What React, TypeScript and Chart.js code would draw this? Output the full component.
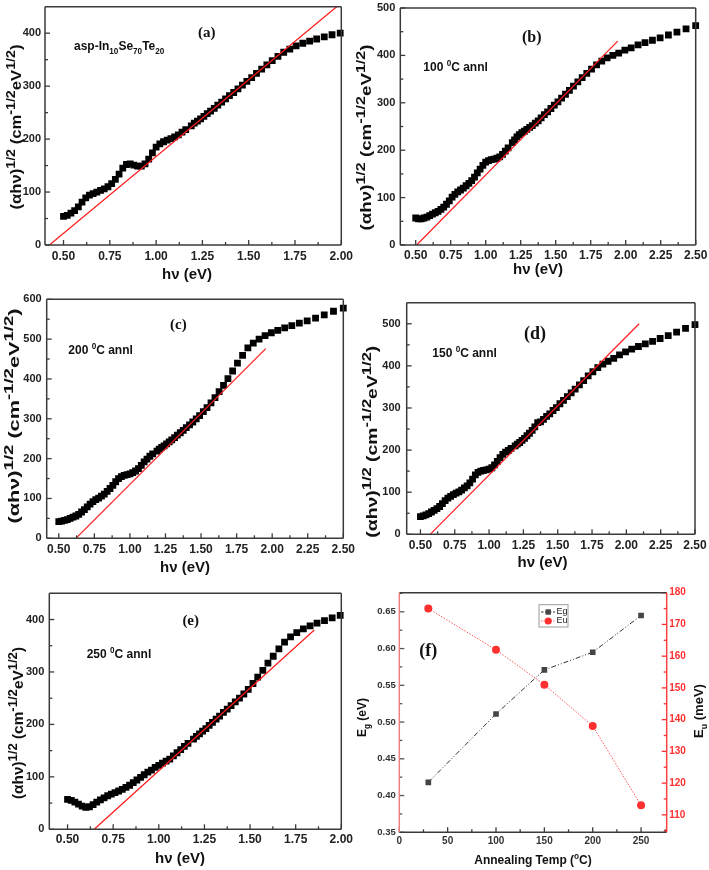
import React, { useEffect, useRef } from 'react';
import { Chart, registerables } from 'chart.js';
Chart.register(...registerables);

// ---------------- data ----------------
// photon energy grid hv (eV)
const hv = [
  0.50, 0.52, 0.54, 0.56, 0.58, 0.60, 0.62, 0.64, 0.66, 0.68,
  0.70, 0.72, 0.74, 0.76, 0.78, 0.80, 0.82, 0.84, 0.86, 0.88,
  0.90, 0.92, 0.94, 0.96, 0.98, 1.00, 1.02, 1.04, 1.06, 1.08,
  1.10, 1.12, 1.14, 1.16,
  1.190, 1.206, 1.223, 1.240, 1.258, 1.276,
  1.294, 1.314, 1.333, 1.354, 1.375, 1.396, 1.419, 1.442, 1.466, 1.490,
  1.516, 1.542, 1.570, 1.598, 1.627, 1.658, 1.689, 1.722, 1.756, 1.792,
  1.829, 1.867, 1.908, 1.950, 1.994,
  2.039, 2.088, 2.138, 2.191, 2.246, 2.305, 2.366, 2.431, 2.500,
];

// (alpha hv)^1/2 values
const alphaAsp = [
  54, 56, 60, 65, 72, 81, 89, 94, 97, 100,
  103, 106, 110, 116, 124, 134, 145, 152, 153, 151,
  149, 149, 153, 162, 174, 185, 191, 195, 198, 201,
  204, 208, 213, 218,
  225, 230, 234, 238, 243, 248,
  253, 258, 264, 270, 276, 282, 288, 295, 302, 309,
  316, 324, 332, 340, 348, 356, 364, 370, 376, 381,
  385, 389, 393, 397, 400,
];
const alpha100 = [
  57, 55, 55, 57, 59, 62, 65, 68, 71, 75,
  80, 86, 93, 101, 107, 112, 116, 120, 125, 130,
  136, 143, 152, 160, 168, 175, 178, 180, 181, 183,
  186, 191, 198, 205,
  216, 222, 228, 233, 237, 240,
  244, 248, 252, 257, 262, 268, 275, 281, 288, 295,
  302, 310, 318, 326, 335, 344, 353, 362, 371, 380,
  388, 395, 400, 405, 411,
  416, 422, 427, 432, 437, 443, 449, 456, 463,
];
const alpha200 = [
  42, 43, 45, 47, 50, 53, 56, 60, 66, 72,
  79, 86, 92, 97, 101, 106, 111, 118, 125, 133,
  142, 150, 155, 158, 160, 162, 165, 169, 175, 183,
  192, 199, 206, 212,
  219, 224, 228, 232, 237, 242,
  247, 253, 259, 265, 271, 278, 285, 292, 300, 308,
  318, 328, 340, 353, 368, 384, 401, 420, 440, 459,
  478, 490, 500, 509, 516,
  522, 528, 534, 540, 546, 553, 561, 570, 578,
];
const alpha150 = [
  42, 44, 46, 49, 53, 57, 61, 66, 73, 80,
  86, 90, 94, 98, 101, 105, 110, 115, 122, 131,
  141, 147, 150, 152, 153, 155, 158, 165, 173, 182,
  190, 195, 199, 204,
  210, 214, 218, 223, 228, 234,
  240, 247, 255, 265, 267, 273, 280, 286, 294, 301,
  310, 318, 327, 336, 345, 355, 365, 376, 386, 396,
  404, 411, 418, 426, 433,
  440, 446, 452, 458, 465, 472, 480, 489, 498,
];
const alpha250 = [
  57, 55, 52, 48, 44, 42, 43, 47, 52, 56,
  60, 64, 67, 70, 73, 76, 80, 84, 89, 94,
  99, 104, 109, 113, 118, 122, 126, 130, 134, 140,
  146, 152, 158, 164,
  172, 177, 182, 187, 192, 198,
  204, 210, 216, 223, 229, 236, 243, 250, 258, 267,
  278, 290, 303, 317, 330, 344, 357, 367, 375, 382,
  388, 393, 398, 403, 408,
];

// linear fits (Tauc extrapolation) endpoints
const fitAspX = [0.424, 1.975];
const fitAspY = [0, 450];
const fit100X = [0.507, 1.943];
const fit100Y = [0, 430];
const fit200X = [0.62, 1.955];
const fit200Y = [0, 476];
const fit150X = [0.571, 2.093];
const fit150Y = [0, 500];
const fit250X = [0.646, 1.852];
const fit250Y = [0, 380];

// panel (f)
const annealTemp = [30, 100, 150, 200, 250];
const gapEg = [0.418, 0.511, 0.571, 0.595, 0.645];
const urbachEu = [175, 162, 151, 138, 113];

// ---------------- helpers ----------------
const SANS = '"Liberation Sans", Arial, sans-serif';
const SERIF = '"Liberation Serif", "Times New Roman", serif';
const INK = '#111';

type Seg = { t: string; k?: 'sup' | 'sub' };

function drawRich(
  ctx: CanvasRenderingContext2D,
  segs: Seg[],
  x: number,
  y: number,
  size: number,
  o: { align?: 'left' | 'center'; rotate?: boolean; color?: string; family?: string; small?: number; len?: number } = {}
) {
  const fam = o.family ?? SANS;
  const small = o.small ?? size * 0.68;
  const font = (s: number) => `bold ${s}px ${fam}`;
  let total = 0;
  const widths = segs.map((s) => {
    ctx.font = font(s.k ? small : size);
    const w = ctx.measureText(s.t).width;
    total += w;
    return w;
  });
  ctx.save();
  ctx.translate(x, y);
  if (o.rotate) ctx.rotate(-Math.PI / 2);
  if (o.len) ctx.scale(o.len / total, 1);
  ctx.fillStyle = o.color ?? INK;
  ctx.textBaseline = 'alphabetic';
  ctx.textAlign = 'left';
  let cx = o.align === 'left' ? 0 : -total / 2;
  const base = size * 0.36;
  segs.forEach((s, i) => {
    ctx.font = font(s.k ? small : size);
    const dy = s.k === 'sup' ? -size * 0.42 : s.k === 'sub' ? size * 0.3 : 0;
    ctx.fillText(s.t, cx, base + dy);
    cx += widths[i];
  });
  ctx.restore();
}

function tickSets(scale: any) {
  const major: number[] = scale.ticks.map((t: any) => t.value);
  const minor: number[] = [];
  for (let i = 0; i < major.length - 1; i++) minor.push((major[i] + major[i + 1]) / 2);
  if (major.length > 1) {
    const step = major[1] - major[0];
    const lo = major[0] - step / 2;
    const hi = major[major.length - 1] + step / 2;
    const eps = step * 1e-3;
    if (lo > scale.min + eps) minor.unshift(lo);
    if (hi < scale.max - eps) minor.push(hi);
  }
  return { major, minor };
}

function drawInwardTicks(ctx: CanvasRenderingContext2D, scale: any, side: 'bottom' | 'left' | 'right', area: any, color: string) {
  const { major, minor } = tickSets(scale);
  ctx.save();
  ctx.strokeStyle = color;
  ctx.lineWidth = 1.3;
  const one = (v: number, len: number) => {
    const p = scale.getPixelForValue(v);
    ctx.beginPath();
    if (side === 'bottom') {
      ctx.moveTo(p, area.bottom);
      ctx.lineTo(p, area.bottom - len);
    } else if (side === 'left') {
      ctx.moveTo(area.left, p);
      ctx.lineTo(area.left + len, p);
    } else {
      ctx.moveTo(area.right, p);
      ctx.lineTo(area.right - len, p);
    }
    ctx.stroke();
  };
  major.forEach((v) => one(v, 5));
  minor.forEach((v) => one(v, 3));
  ctx.restore();
}

type TextItem = { segs: Seg[]; x: number; y: number; size: number; align?: 'left' | 'center'; rotate?: boolean; family?: string; color?: string; len?: number; small?: number };

interface TaucSpec {
  box: [number, number, number, number];
  plot: [number, number, number, number]; // L T R B page coords
  xMin: number;
  xMax: number;
  yMax: number;
  ys: number[];
  fitX: number[];
  fitY: number[];
  xPad: number;
  yPad: number;
  texts: TextItem[];
}

const yTitle: Seg[] = [
  { t: '(αhν)' }, { t: '1/2', k: 'sup' }, { t: ' (cm' }, { t: '-1/2', k: 'sup' }, { t: 'eV' }, { t: '1/2', k: 'sup' }, { t: ')' },
];
const hvTitle: Seg[] = [{ t: 'hν (eV)' }];
const annl = (t: string): Seg[] => [{ t: t + ' ' }, { t: '0', k: 'sup' }, { t: 'C annl' }];
const yT = (x: number, y: number, len: number): TextItem => ({ segs: yTitle, x, y, size: 14, small: 12, rotate: true, len });

const panels: TaucSpec[] = [
  {
    box: [0, 0, 355, 290], plot: [45, 6.7, 341.3, 245], xMin: 0.4, xMax: 2.0, yMax: 450,
    ys: alphaAsp, fitX: fitAspX, fitY: fitAspY, xPad: 4.5, yPad: 4,
    texts: [
      { segs: [{ t: '(a)' }], x: 206.7, y: 32, size: 15, family: SERIF },
      { segs: [{ t: 'asp-In' }, { t: '10', k: 'sub' }, { t: 'Se' }, { t: '70', k: 'sub' }, { t: 'Te' }, { t: '20', k: 'sub' }], x: 74, y: 46, size: 12, align: 'left' },
      { segs: hvTitle, x: 187, y: 274, size: 15 },
      yT(16, 127, 165),
    ],
  },
  {
    box: [355, 0, 354, 290], plot: [400.3, 8, 695.7, 245], xMin: 0.39, xMax: 2.5, yMax: 500,
    ys: alpha100, fitX: fit100X, fitY: fit100Y, xPad: 3.6, yPad: 5,
    texts: [
      { segs: [{ t: '(b)' }], x: 531.7, y: 36, size: 16, family: SERIF },
      { segs: annl('100'), x: 423.3, y: 67, size: 12, align: 'left' },
      { segs: hvTitle, x: 538, y: 269, size: 15 },
      yT(366, 137.5, 186),
    ],
  },
  {
    box: [0, 290, 355, 290], plot: [46.7, 299.3, 343.3, 538.3], xMin: 0.415, xMax: 2.5, yMax: 600,
    ys: alpha200, fitX: fit200X, fitY: fit200Y, xPad: 4.5, yPad: 5,
    texts: [
      { segs: [{ t: '(c)' }], x: 178.3, y: 324, size: 15, family: SERIF },
      { segs: annl('200'), x: 68.3, y: 349.3, size: 12, align: 'left' },
      { segs: hvTitle, x: 185, y: 567, size: 15 },
      yT(14, 416, 215),
    ],
  },
  {
    box: [355, 290, 354, 290], plot: [406.7, 302.7, 695, 534.3], xMin: 0.4, xMax: 2.5, yMax: 550,
    ys: alpha150, fitX: fit150X, fitY: fit150Y, xPad: 4.3, yPad: 6,
    texts: [
      { segs: [{ t: '(d)' }], x: 535, y: 332.7, size: 18, family: SERIF },
      { segs: annl('150'), x: 432.3, y: 352.7, size: 12, align: 'left' },
      { segs: hvTitle, x: 542.5, y: 561.7, size: 15 },
      yT(371.5, 441.7, 192),
    ],
  },
  {
    box: [0, 575, 355, 295], plot: [49.3, 593.3, 341.3, 829.3], xMin: 0.4, xMax: 2.0, yMax: 450,
    ys: alpha250, fitX: fit250X, fitY: fit250Y, xPad: 2.7, yPad: 5,
    texts: [
      { segs: [{ t: '(e)' }], x: 190.7, y: 619.3, size: 15, family: SERIF },
      { segs: annl('250'), x: 86.7, y: 653.3, size: 12, align: 'left' },
      { segs: hvTitle, x: 180, y: 858, size: 15 },
      yT(17.5, 723, 152),
    ],
  },
];

function drawTexts(ctx: CanvasRenderingContext2D, texts: TextItem[], ox: number, oy: number) {
  texts.forEach((t) =>
    drawRich(ctx, t.segs, t.x - ox, t.y - oy, t.size, { align: t.align ?? 'center', rotate: t.rotate, family: t.family, color: t.color, len: t.len, small: t.small })
  );
}

function frame(ctx: CanvasRenderingContext2D, a: any, colors: { top: string; bottom: string; left: string; right: string }) {
  ctx.save();
  ctx.lineWidth = 1.5;
  const seg = (c: string, x1: number, y1: number, x2: number, y2: number) => {
    ctx.strokeStyle = c;
    ctx.beginPath();
    ctx.moveTo(x1, y1);
    ctx.lineTo(x2, y2);
    ctx.stroke();
  };
  seg(colors.top, a.left, a.top, a.right, a.top);
  seg(colors.bottom, a.left, a.bottom, a.right, a.bottom);
  seg(colors.left, a.left, a.top, a.left, a.bottom);
  seg(colors.right, a.right, a.top, a.right, a.bottom);
  ctx.restore();
}

const FRAME = '#3a3a3a';

function taucConfig(s: TaucSpec): any {
  const [bx, by, bw, bh] = s.box;
  const [L, T, R, B] = s.plot;
  const points = s.ys.map((v, i) => ({ x: hv[i], y: v }));
  const fit = s.fitX.map((x, i) => ({ x, y: s.fitY[i] }));
  return {
    type: 'scatter',
    data: {
      datasets: [
        { data: fit, showLine: true, borderColor: '#ff1a1a', borderWidth: 1.2, pointRadius: 0, fill: false },
        { data: points, pointStyle: 'rect', pointRadius: 4.8, backgroundColor: '#000', borderWidth: 0, pointBorderWidth: 0, clip: 4 },
      ],
    },
    options: {
      animation: false,
      responsive: false,
      devicePixelRatio: 1,
      events: [],
      layout: { padding: { left: 0, top: T - by, right: bx + bw - R, bottom: 0 } },
      plugins: { legend: { display: false }, tooltip: { enabled: false } },
      scales: {
        x: {
          type: 'linear', min: s.xMin, max: s.xMax,
          grid: { display: false, drawTicks: false }, border: { display: false },
          ticks: { stepSize: 0.25, includeBounds: false, padding: s.xPad, color: '#222', font: { family: SANS, size: 12, weight: 'bold' }, callback: (v: any) => Number(v).toFixed(2) },
          afterFit: (sc: any) => { sc.height = by + bh - B; sc.paddingLeft = 0; sc.paddingRight = 0; },
        },
        y: {
          type: 'linear', min: 0, max: s.yMax,
          grid: { display: false, drawTicks: false }, border: { display: false },
          ticks: { stepSize: 100, includeBounds: false, padding: s.yPad, color: '#222', font: { family: SANS, size: 11, weight: 'bold' } },
          afterFit: (sc: any) => { sc.width = L - bx; sc.paddingTop = 0; sc.paddingBottom = 0; },
        },
      },
    },
    plugins: [
      {
        id: 'decor',
        afterDraw(chart: any) {
          const ctx = chart.ctx;
          const a = chart.chartArea;
          drawInwardTicks(ctx, chart.scales.x, 'bottom', a, FRAME);
          drawInwardTicks(ctx, chart.scales.y, 'left', a, FRAME);
          frame(ctx, a, { top: FRAME, bottom: FRAME, left: FRAME, right: FRAME });
          drawTexts(ctx, s.texts, bx, by);
        },
      },
    ],
  };
}

const F_BOX: [number, number, number, number] = [355, 575, 354, 295];
const F_PLOT = [399.3, 592.7, 666.7, 832.3];
const EG_COLOR = '#444';
const EU_COLOR = '#ff3030';

function fConfig(): any {
  const [bx, by, bw, bh] = F_BOX;
  const [L, T, R, B] = F_PLOT;
  return {
    type: 'scatter',
    data: {
      datasets: [
        {
          data: annealTemp.map((t, i) => ({ x: t, y: gapEg[i] })), yAxisID: 'y', showLine: true,
          borderColor: '#333', borderWidth: 1, borderDash: [5, 2, 1, 2, 1, 2],
          pointStyle: 'rect', pointRadius: 4, backgroundColor: EG_COLOR, pointBorderWidth: 0,
        },
        {
          data: annealTemp.map((t, i) => ({ x: t, y: urbachEu[i] })), yAxisID: 'y2', showLine: true,
          borderColor: '#ff5a5a', borderWidth: 1, borderDash: [1.5, 1.5],
          pointStyle: 'circle', pointRadius: 4, backgroundColor: EU_COLOR, pointBorderWidth: 0,
        },
      ],
    },
    options: {
      animation: false,
      responsive: false,
      devicePixelRatio: 1,
      events: [],
      layout: { padding: { left: 0, top: T - by, right: 0, bottom: 0 } },
      plugins: { legend: { display: false }, tooltip: { enabled: false } },
      scales: {
        x: {
          type: 'linear', min: 0, max: 276.5,
          grid: { display: false, drawTicks: false }, border: { display: false },
          ticks: { stepSize: 50, includeBounds: false, padding: 3.4, color: '#333', font: { family: SANS, size: 10, weight: 'bold' } },
          afterFit: (sc: any) => { sc.height = by + bh - B; sc.paddingLeft = 0; sc.paddingRight = 0; },
        },
        y: {
          type: 'linear', position: 'left', min: 0.35, max: 0.676,
          grid: { display: false, drawTicks: false }, border: { display: false },
          ticks: { stepSize: 0.05, includeBounds: false, padding: 3.6, color: '#333', font: { family: SANS, size: 9.5, weight: 'bold' }, callback: (v: any) => Number(v).toFixed(2) },
          afterFit: (sc: any) => { sc.width = L - bx; sc.paddingTop = 0; sc.paddingBottom = 0; },
        },
        y2: {
          type: 'linear', position: 'right', min: 104.5, max: 180,
          grid: { display: false, drawTicks: false }, border: { display: false },
          ticks: { stepSize: 10, includeBounds: false, padding: 2.5, color: EU_COLOR, font: { family: SANS, size: 10, weight: 'bold' } },
          afterFit: (sc: any) => { sc.width = bx + bw - R; sc.paddingTop = 0; sc.paddingBottom = 0; },
        },
      },
    },
    plugins: [
      {
        id: 'decorF',
        afterDraw(chart: any) {
          const ctx: CanvasRenderingContext2D = chart.ctx;
          const a = chart.chartArea;
          drawInwardTicks(ctx, chart.scales.x, 'bottom', a, FRAME);
          drawInwardTicks(ctx, chart.scales.y, 'left', a, '#555');
          drawInwardTicks(ctx, chart.scales.y2, 'right', a, EU_COLOR);
          frame(ctx, a, { top: FRAME, bottom: FRAME, left: '#f08080', right: '#ff4040' });
          const texts: TextItem[] = [
            { segs: [{ t: '(f)' }], x: 428.3, y: 650, size: 18, family: SERIF },
            { segs: [{ t: 'Annealing Temp (' }, { t: 'o', k: 'sup' }, { t: 'C)' }], x: 533, y: 860, size: 12 },
            { segs: [{ t: 'E' }, { t: 'g', k: 'sub' }, { t: ' (eV)' }], x: 362, y: 717.5, size: 12, rotate: true },
            { segs: [{ t: 'E' }, { t: 'u', k: 'sub' }, { t: ' (meV)' }], x: 698, y: 711, size: 13, rotate: true },
          ];
          drawTexts(ctx, texts, bx, by);
          // legend
          const lx = 539 - bx, ly = 604.7 - by;
          ctx.save();
          ctx.strokeStyle = '#9a9a9a';
          ctx.lineWidth = 1;
          ctx.strokeRect(lx, ly, 29, 22.3);
          const rows = [
            { y: ly + 7.3, label: 'Eg', color: '#333', dash: [2.5, 1.5], kind: 'rect', fillc: EG_COLOR },
            { y: ly + 16.3, label: 'Eu', color: '#ff5a5a', dash: [1.2, 1.2], kind: 'circle', fillc: EU_COLOR },
          ];
          rows.forEach((r) => {
            ctx.strokeStyle = r.color;
            ctx.setLineDash(r.dash);
            ctx.beginPath();
            ctx.moveTo(lx + 2, r.y);
            ctx.lineTo(lx + 16, r.y);
            ctx.stroke();
            ctx.setLineDash([]);
            ctx.fillStyle = r.fillc;
            if (r.kind === 'rect') ctx.fillRect(lx + 6.5, r.y - 2.7, 5.4, 5.4);
            else { ctx.beginPath(); ctx.arc(lx + 9.2, r.y, 3.6, 0, Math.PI * 2); ctx.fill(); }
            ctx.fillStyle = '#222';
            ctx.font = `9px ${SANS}`;
            ctx.textBaseline = 'middle';
            ctx.textAlign = 'left';
            ctx.fillText(r.label, lx + 17.5, r.y);
          });
          ctx.restore();
        },
      },
    ],
  };
}

function ChartCanvas({ box, make }: { box: [number, number, number, number]; make: () => any }) {
  const ref = useRef<HTMLCanvasElement>(null);
  useEffect(() => {
    const chart = new Chart(ref.current as HTMLCanvasElement, make());
    return () => chart.destroy();
  }, []);
  const [x, y, w, h] = box;
  return <canvas ref={ref} width={w} height={h} style={{ position: 'absolute', left: x, top: y, width: w, height: h }} />;
}

export default function App() {
  return (
    <div style={{ position: 'absolute', left: 0, top: 0, width: 709, height: 870, background: '#fff' }}>
      {panels.map((p, i) => (
        <ChartCanvas key={i} box={p.box} make={() => taucConfig(p)} />
      ))}
      <ChartCanvas box={F_BOX} make={fConfig} />
    </div>
  );
}
